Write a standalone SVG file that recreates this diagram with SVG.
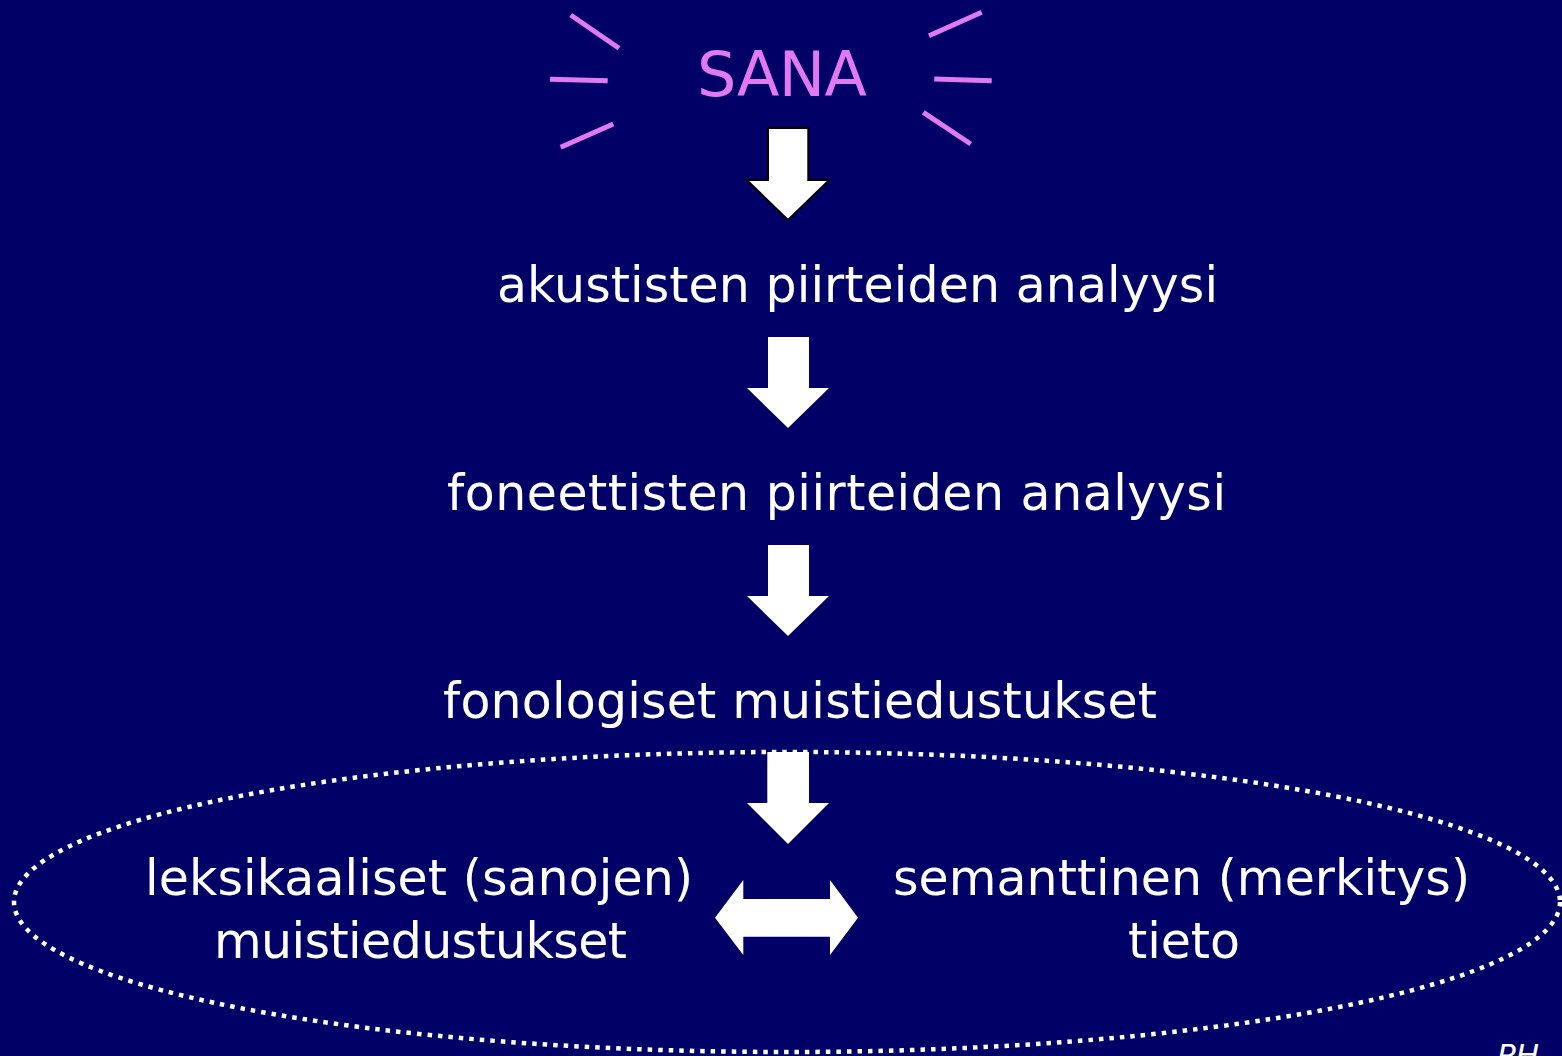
<svg xmlns="http://www.w3.org/2000/svg" width="1562" height="1056" viewBox="0 0 1562 1056">
<style>
.t{font-family:"DejaVu Sans","Liberation Sans",sans-serif;fill:#ffffff;font-size:49px;text-anchor:middle}
.ray{stroke:#E17AF0;stroke-width:5;stroke-linecap:butt}
.arr{fill:#ffffff}
</style>
<rect width="1562" height="1056" fill="#000066"/>
<g id="sana">
<text x="782" y="96" style="font-family:'DejaVu Sans','Liberation Sans',sans-serif;font-size:62px;fill:#E17AF0;text-anchor:middle" textLength="170">SANA</text>
<line class="ray" x1="570.7" y1="15" x2="619" y2="48.3"/>
<line class="ray" x1="550" y1="79.3" x2="607.7" y2="80.7"/>
<line class="ray" x1="560.7" y1="147.3" x2="613.3" y2="124"/>
<line class="ray" x1="929" y1="35.7" x2="981.7" y2="12.3"/>
<line class="ray" x1="934.3" y1="79" x2="991.7" y2="80.7"/>
<line class="ray" x1="923.3" y1="112.3" x2="970.7" y2="144"/>
</g>
<g id="akustisten"><text class="t" x="857.5" y="302" textLength="721">akustisten piirteiden analyysi</text></g>
<g id="foneettisten"><text class="t" x="836.5" y="510" textLength="779">foneettisten piirteiden analyysi</text></g>
<g id="fonologiset"><text class="t" x="800" y="718" textLength="714">fonologiset muistiedustukset</text></g>
<g id="leksikaaliset">
<text class="t" x="419" y="895" textLength="548">leksikaaliset (sanojen)</text>
<text class="t" x="420.5" y="958" textLength="413">muistiedustukset</text>
</g>
<g id="semanttinen">
<text class="t" x="1181.5" y="895" textLength="577">semanttinen (merkitys)</text>
<text class="t" x="1184" y="958" textLength="112">tieto</text>
</g>
<g id="connectors">
<path class="arr" d="M768,128 H808.3 V180 H829.3 L788,220 L746.7,180 H768 Z" stroke="#000000" stroke-width="2"/>
<path class="arr" d="M768,337 H809 V388 H829 L788,428 L747,388 H768 Z"/>
<path class="arr" d="M768,545 H809 V596 H829 L788,636 L747,596 H768 Z"/>
<ellipse cx="787" cy="902" rx="773" ry="150" fill="none" stroke="#ffffff" stroke-width="4.5" stroke-dasharray="4.5 6"/>
<path class="arr" d="M767.3,752 H809 V803 H829 L788,844 L747,803 H767.3 Z"/>
<path class="arr" d="M715,917.7 L743.3,880 V899 H830 V880 L858,917.7 L830,955 V936.7 H743.3 V955 Z"/>
</g>
<text x="1497" y="1066" style="font-family:'DejaVu Sans','Liberation Sans',sans-serif;font-size:31px;font-style:italic;fill:#ffffff">PH</text>
</svg>
